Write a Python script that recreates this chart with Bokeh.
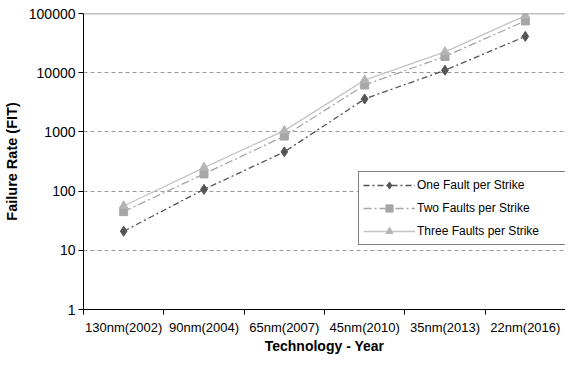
from bokeh.plotting import figure
from bokeh.models import Range1d, FixedTicker, Span, Legend
from bokeh.embed import file_html
from bokeh.resources import INLINE

categories = ["130nm(2002)", "90nm(2004)", "65nm(2007)", "45nm(2010)", "35nm(2013)", "22nm(2016)"]
one_fault = [21, 107, 460, 3600, 11000, 41000]
two_faults = [45, 195, 850, 6200, 18800, 75000]
three_faults = [56, 250, 1050, 7500, 22500, 92000]
y_ticks = [1, 10, 100, 1000, 10000, 100000]
y_tick_labels = ["1", "10", "100", "1000", "10000", "100000"]

FONT = "Liberation Sans"
xs = [i + 0.5 for i in range(len(categories))]

p = figure(width=565, height=356, output_backend="svg", toolbar_location=None,
           y_axis_type="log", x_range=Range1d(0, len(categories)),
           y_range=Range1d(y_ticks[0], y_ticks[-1]),
           min_border_left=10, min_border_right=0, min_border_top=13, min_border_bottom=10)
p.outline_line_color = None
p.background_fill_color = "white"
p.border_fill_color = "white"

# y axis
p.yaxis.ticker = FixedTicker(ticks=y_ticks, minor_ticks=[])
p.yaxis.major_label_overrides = {t: l for t, l in zip(y_ticks, y_tick_labels)}
p.yaxis.major_label_text_font = FONT
p.yaxis.major_label_text_font_size = "14px"
p.yaxis.major_label_text_color = "black"
p.yaxis.major_tick_out = 5
p.yaxis.major_tick_in = 0
p.yaxis.minor_tick_line_color = None
p.yaxis.axis_line_color = "black"
p.yaxis.major_tick_line_color = "black"
p.yaxis.major_label_standoff = 3
p.yaxis.axis_label = "Failure Rate (FIT)"
p.yaxis.axis_label_text_font = FONT
p.yaxis.axis_label_text_font_style = "bold"
p.yaxis.axis_label_text_font_size = "14.5px"
p.yaxis.axis_label_text_color = "black"
p.yaxis.axis_label_standoff = 6

# x axis
p.xaxis.ticker = FixedTicker(ticks=xs, minor_ticks=list(range(len(categories) + 1)))
p.xaxis.major_label_overrides = {x: c for x, c in zip(xs, categories)}
p.xaxis.major_label_text_font = FONT
p.xaxis.major_label_text_font_size = "13px"
p.xaxis.major_label_text_color = "black"
p.xaxis.major_tick_out = 0
p.xaxis.major_tick_in = 0
p.xaxis.minor_tick_out = 5
p.xaxis.minor_tick_in = 0
p.xaxis.minor_tick_line_color = "black"
p.xaxis.axis_line_color = "black"
p.xaxis.major_label_standoff = 5
p.xaxis.axis_label = "Technology - Year"
p.xaxis.axis_label_text_font = FONT
p.xaxis.axis_label_text_font_style = "bold"
p.xaxis.axis_label_text_font_size = "14px"
p.xaxis.axis_label_text_color = "black"
p.xaxis.axis_label_standoff = 0

# grid
p.xgrid.grid_line_color = None
p.ygrid.ticker = FixedTicker(ticks=y_ticks[1:-1], minor_ticks=[])
p.ygrid.grid_line_color = "#9a9a9a"
p.ygrid.grid_line_dash = "4 3"
p.ygrid.grid_line_width = 1
p.add_layout(Span(location=y_ticks[-1], dimension="width", line_color="#808080", line_width=1.5))

# series
r1l = p.line(xs, one_fault, line_color="#555555", line_width=1.3, line_dash="6 3 2 3")
r1m = p.scatter(xs, one_fault, marker="diamond", size=10, fill_color="#555555", line_color="#555555")
r2l = p.line(xs, two_faults, line_color="#a6a6a6", line_width=1.3, line_dash="8 3 2 3")
r2m = p.scatter(xs, two_faults, marker="square", size=8, fill_color="#a6a6a6", line_color="#a6a6a6")
r3l = p.line(xs, three_faults, line_color="#c4c4c4", line_width=1.3)
r3m = p.scatter(xs, three_faults, marker="triangle", size=9, fill_color="#b4b4b4", line_color="#b4b4b4")

legend = Legend(items=[("One Fault per Strike", [r1l, r1m]),
                       ("Two Faults per Strike", [r2l, r2m]),
                       ("Three Faults per Strike", [r3l, r3m])],
                location=(275, 64))
legend.label_text_font = FONT
legend.label_text_font_size = "12px"
legend.label_text_color = "black"
legend.border_line_color = "black"
legend.border_line_width = 1
legend.background_fill_color = "white"
legend.background_fill_alpha = 1
legend.glyph_width = 52
legend.glyph_height = 18
legend.label_height = 18
legend.label_width = 148
legend.label_standoff = 2
legend.spacing = 5
legend.padding = 4
legend.margin = 0
p.add_layout(legend, "center")

open("out.html", "w").write(file_html(p, INLINE))
